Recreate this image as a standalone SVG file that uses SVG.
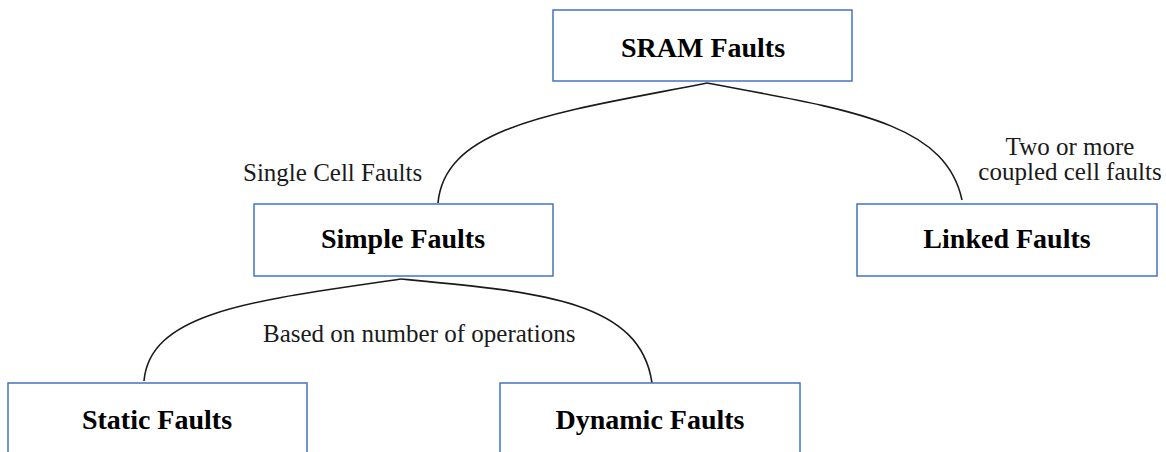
<svg xmlns="http://www.w3.org/2000/svg" width="1166" height="452" viewBox="0 0 1166 452">
<style>
.box{fill:#fff;stroke:#4472C4;stroke-width:1.5}
.t{font-family:'Liberation Serif','DejaVu Serif',serif;font-weight:bold;font-size:28px;fill:#000;text-anchor:middle}
.l{font-family:'Liberation Serif','DejaVu Serif',serif;font-size:25px;fill:#1a1a1a}
.c{fill:none;stroke:#1a1a1a;stroke-width:1.6}
</style>
<rect width="1166" height="452" fill="#fff"/>
<g id="connectors">
<path class="c" d="M707,83 C560,112 445,125 438,203"/>
<path class="c" d="M707,83 C850,110 945,122 962,200"/>
<path class="c" d="M401,279 C260,300 150,310 144,381"/>
<path class="c" d="M401,279 C540,292 640,300 652,383"/>
</g>
<g id="sram"><rect class="box" x="553" y="10" width="299" height="71"/><text class="t" x="703" y="57">SRAM Faults</text></g>
<g id="simple"><rect class="box" x="254" y="204" width="299" height="72"/><text class="t" x="403" y="248">Simple Faults</text></g>
<g id="linked"><rect class="box" x="857" y="204" width="300" height="72"/><text class="t" x="1007" y="248">Linked Faults</text></g>
<g id="static"><rect class="box" x="8" y="383" width="299" height="80"/><text class="t" x="157" y="429">Static Faults</text></g>
<g id="dynamic"><rect class="box" x="500" y="383" width="300" height="80"/><text class="t" x="650" y="429">Dynamic Faults</text></g>
<g id="labels">
<text class="l" x="243" y="181">Single Cell Faults</text>
<text class="l" x="1070" y="155" text-anchor="middle">Two or more</text>
<text class="l" x="1070" y="180" text-anchor="middle">coupled cell faults</text>
<text class="l" x="263" y="342">Based on number of operations</text>
</g>
</svg>
